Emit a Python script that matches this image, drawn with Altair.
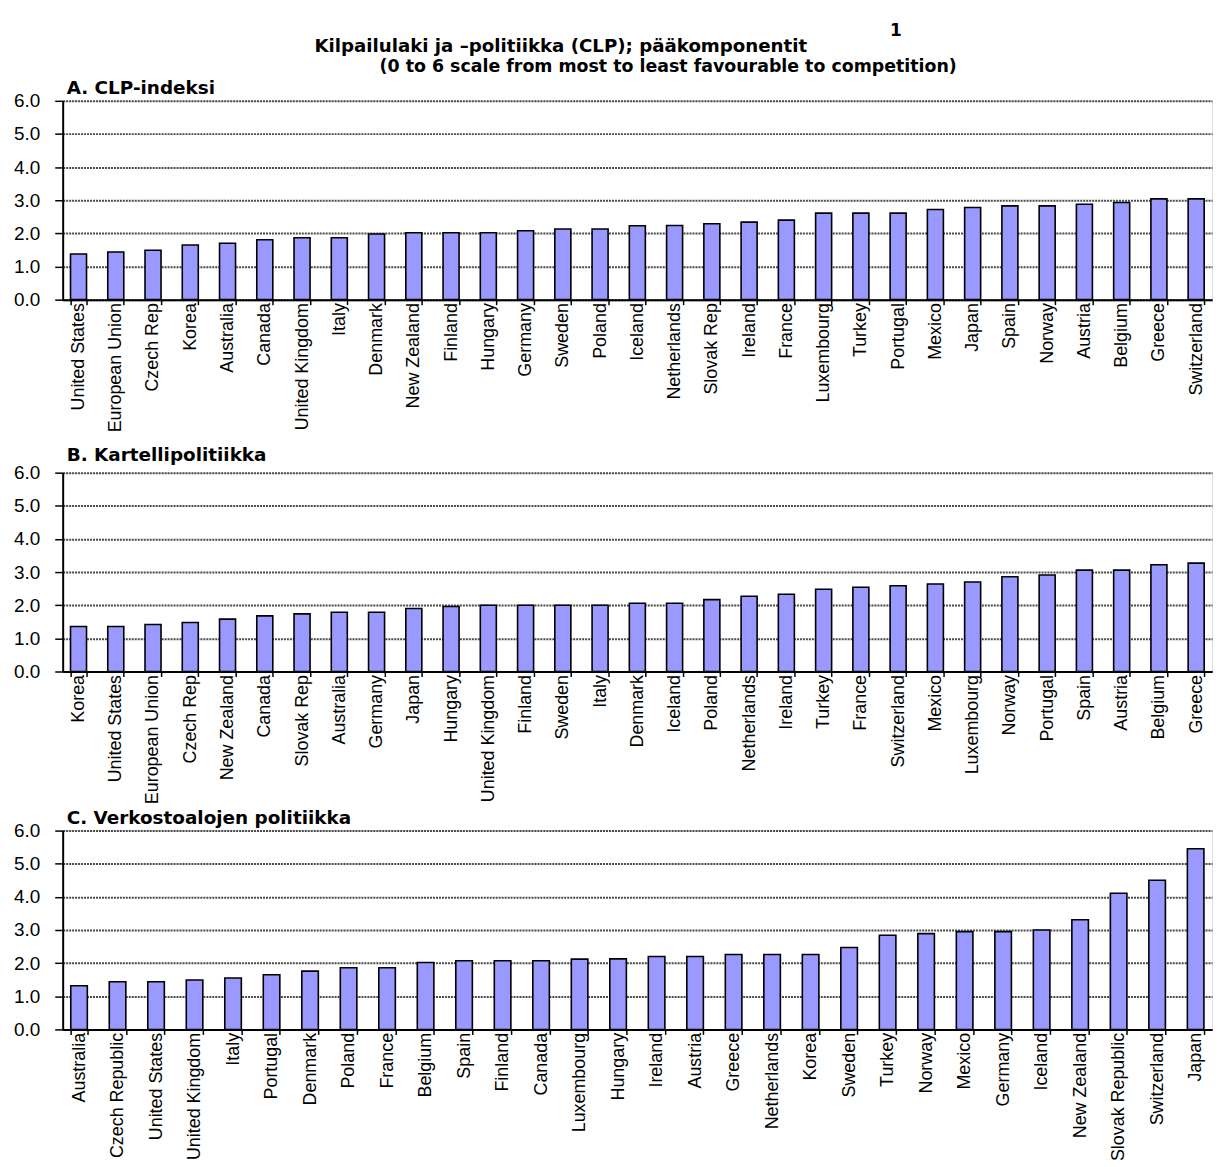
import altair as alt
import pandas as pd

TITLE_NOTE = "1"
TITLE_MAIN = "Kilpailulaki ja –politiikka (CLP); pääkomponentit"
TITLE_SUB = "(0 to 6 scale from most to least favourable to competition)"

a_title = "A. CLP-indeksi"
a_countries = ["United States", "European Union", "Czech Rep", "Korea", "Australia", "Canada",
               "United Kingdom", "Italy", "Denmark", "New Zealand", "Finland", "Hungary", "Germany",
               "Sweden", "Poland", "Iceland", "Netherlands", "Slovak Rep", "Ireland", "France",
               "Luxembourg", "Turkey", "Portugal", "Mexico", "Japan", "Spain", "Norway", "Austria",
               "Belgium", "Greece", "Switzerland"]
a_values = [1.38, 1.44, 1.49, 1.65, 1.70, 1.81, 1.87, 1.87, 1.98, 2.02, 2.02, 2.02, 2.08, 2.13,
            2.13, 2.23, 2.24, 2.29, 2.34, 2.40, 2.61, 2.61, 2.61, 2.72, 2.78, 2.83, 2.83, 2.88,
            2.93, 3.04, 3.04]

b_title = "B. Kartellipolitiikka"
b_countries = ["Korea", "United States", "European Union", "Czech Rep", "New Zealand", "Canada",
               "Slovak Rep", "Australia", "Germany", "Japan", "Hungary", "United Kingdom", "Finland",
               "Sweden", "Italy", "Denmark", "Iceland", "Poland", "Netherlands", "Ireland", "Turkey",
               "France", "Switzerland", "Mexico", "Luxembourg", "Norway", "Portugal", "Spain",
               "Austria", "Belgium", "Greece"]
b_values = [1.36, 1.36, 1.42, 1.48, 1.58, 1.68, 1.74, 1.79, 1.79, 1.90, 1.96, 2.00, 2.00, 2.00,
            2.00, 2.06, 2.06, 2.17, 2.27, 2.33, 2.48, 2.54, 2.59, 2.64, 2.70, 2.86, 2.91, 3.06,
            3.06, 3.22, 3.27]

c_title = "C. Verkostoalojen politiikka"
c_countries = ["Australia", "Czech Republic", "United States", "United Kingdom", "Italy", "Portugal",
               "Denmark", "Poland", "France", "Belgium", "Spain", "Finland", "Canada", "Luxembourg",
               "Hungary", "Ireland", "Austria", "Greece", "Netherlands", "Korea", "Sweden", "Turkey",
               "Norway", "Mexico", "Germany", "Iceland", "New Zealand", "Slovak Republic",
               "Switzerland", "Japan"]
c_values = [1.32, 1.44, 1.44, 1.49, 1.55, 1.65, 1.76, 1.86, 1.86, 2.02, 2.07, 2.07, 2.07, 2.12,
            2.13, 2.20, 2.20, 2.26, 2.26, 2.26, 2.47, 2.84, 2.89, 2.95, 2.95, 3.00, 3.31, 4.11,
            4.50, 5.45]

y_ticks = [0, 1, 2, 3, 4, 5, 6]

W = 1156
H = 200


def panel(title, countries, values, title_offset):
    df = pd.DataFrame({"country": countries, "value": values})
    return alt.Chart(df).mark_bar(
        color="#9999FF", stroke="black", strokeWidth=1.6
    ).encode(
        x=alt.X(
            "country:N", sort=None, title=None,
            scale=alt.Scale(paddingInner=0.57, paddingOuter=0.21),
            axis=alt.Axis(
                labelAngle=270, labelFont="Liberation Sans", labelFontSize=18,
                labelColor="black", labelPadding=-2, labelLimit=400, labelOverlap=False,
                tickBand="extent", tickSize=5, tickColor="black", tickWidth=1.5,
                domainColor="black", domainWidth=2, grid=False,
            ),
        ),
        y=alt.Y(
            "value:Q", title=None,
            scale=alt.Scale(domain=[0, 6], nice=False),
            axis=alt.Axis(
                values=y_ticks, format=".1f", labelFont="Liberation Sans", labelFontSize=19,
                labelColor="black", labelPadding=15, tickSize=8, tickColor="black",
                tickWidth=1.5, domainColor="black", domainWidth=2, grid=True,
                gridColor="#4a4a4a", gridDash=[2, 1], gridWidth=2, minExtent=54,
            ),
        ),
    ).properties(
        width=W, height=H,
        title=alt.TitleParams(
            title, anchor="start", frame="group", dx=4, offset=title_offset,
            font="DejaVu Sans", fontSize=18.5, fontWeight="bold", color="black",
        ),
    )


pa = panel(a_title, a_countries, a_values, -6)
pb = panel(b_title, b_countries, b_values, -1)
pc = panel(c_title, c_countries, c_values, -6)

bc = alt.vconcat(pb, pc, spacing=160, bounds="flush")
lvl2 = alt.vconcat(pa, bc, spacing=174, bounds="flush").properties(
    title=alt.TitleParams(TITLE_SUB, anchor="middle", dx=58, offset=3,
                          font="DejaVu Sans", fontSize=17.5, fontWeight="bold", color="black")
)
lvl1 = alt.vconcat(lvl2).properties(
    title=alt.TitleParams(TITLE_MAIN, anchor="middle", dx=-50, offset=2,
                          font="DejaVu Sans", fontSize=18.3, fontWeight="bold", color="black")
)
chart = alt.vconcat(lvl1).properties(
    title=alt.TitleParams(TITLE_NOTE, anchor="middle", dx=287, offset=-3,
                          font="DejaVu Sans", fontSize=17, fontWeight="bold", color="black"),
    padding={"left": 0, "top": 11, "right": 0, "bottom": 0},
).configure_view(stroke=None).configure(background="white")

chart.save("out.html", embed_options={"renderer": "svg", "actions": False})
